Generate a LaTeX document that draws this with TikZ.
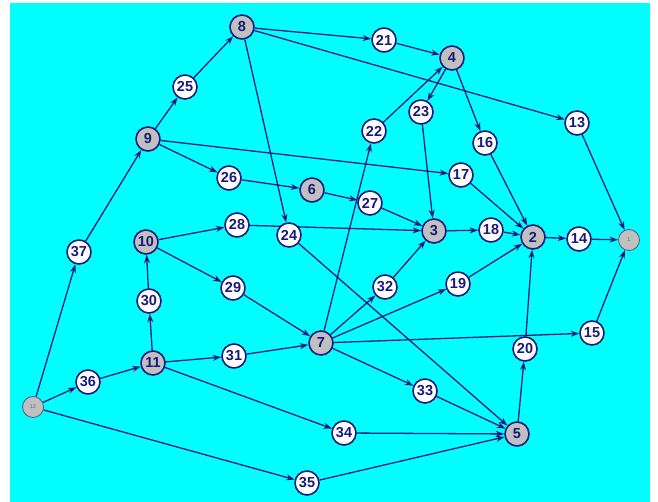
\documentclass[tikz,border=0pt]{standalone}
\usepackage{fontspec}
\setmainfont{Liberation Sans}
\usetikzlibrary{arrows.meta}
\definecolor{navy}{RGB}{25,25,125}
\definecolor{bgcyan}{RGB}{0,255,255}
\definecolor{nodegray}{RGB}{192,192,192}
\pgfdeclarelayer{bgl}
\pgfdeclarelayer{edgel}
\pgfsetlayers{bgl,edgel,main}
\begin{document}
\begin{tikzpicture}[x=1pt,y=-1pt,
  wn/.style={circle,draw=navy,line width=1.6pt,fill=white,minimum size=24pt,inner sep=0pt,
    font=\fontsize{14.5}{14.5}\selectfont\bfseries,text=navy},
  gn/.style={wn,fill=nodegray},
  sn/.style={circle,draw=gray!60!navy,line width=0.8pt,fill=nodegray,minimum size=21pt,inner sep=0pt,
    font=\fontsize{5.5}{5.5}\selectfont,text=navy!70},
  ed/.style={draw=navy,line width=1.3pt,-{Stealth[length=8.5pt,width=6pt]}}]
\begin{pgfonlayer}{bgl}
  \fill[white] (0,0) rectangle (658,502);
  \fill[bgcyan] (10,3) rectangle (650,502);
\end{pgfonlayer}
% nodes
\node[gn] (n8) at (242,27) {8};
\node[wn] (n21) at (384,40) {21};
\node[gn] (n4) at (452,58) {4};
\node[wn] (n25) at (185,87) {25};
\node[gn] (n9) at (148,139) {9};
\node[wn] (n23) at (421,112) {23};
\node[wn] (n22) at (374,131) {22};
\node[wn] (n16) at (485,143) {16};
\node[wn] (n13) at (577,123) {13};
\node[wn] (n17) at (461,175) {17};
\node[wn] (n26) at (229,178) {26};
\node[gn] (n6) at (312,190) {6};
\node[wn] (n27) at (370,203) {27};
\node[wn] (n28) at (237,225) {28};
\node[wn] (n24) at (289,235) {24};
\node[gn] (n10) at (146,242) {10};
\node[gn] (n3) at (434,231) {3};
\node[wn] (n18) at (491,230) {18};
\node[gn] (n2) at (533,237) {2};
\node[wn] (n14) at (579,239) {14};
\node[sn] (n1) at (629,240) {1};
\node[wn] (n37) at (79,252) {37};
\node[wn] (n30) at (149,301) {30};
\node[wn] (n29) at (233,288) {29};
\node[wn] (n32) at (385,287) {32};
\node[wn] (n19) at (458,284) {19};
\node[gn] (n7) at (321,343) {7};
\node[wn] (n15) at (592,333) {15};
\node[wn] (n20) at (525,349) {20};
\node[wn] (n31) at (234,356) {31};
\node[gn] (n11) at (153,363) {11};
\node[wn] (n36) at (88,382) {36};
\node[sn] (n12) at (33,407) {12};
\node[wn] (n33) at (425,391) {33};
\node[wn] (n34) at (344,433) {34};
\node[gn] (n5) at (517,434) {5};
\node[wn] (n35) at (307,483) {35};
% edges
\begin{pgfonlayer}{edgel}
\foreach \a/\b in {12/37,37/9,12/36,36/11,12/35,35/5,9/25,25/8,8/21,21/4,8/13,8/24,
  4/23,4/16,23/3,16/2,13/1,9/17,17/2,9/26,26/6,6/27,27/3,3/18,18/2,2/14,14/1,
  10/28,28/3,10/29,29/7,11/30,30/10,11/31,31/7,11/34,34/5,
  7/22,22/4,7/32,32/3,7/19,19/2,7/15,15/1,7/33,33/5,5/20,20/2,24/5}
  \draw[ed] (n\a) -- (n\b);
\end{pgfonlayer}
\end{tikzpicture}
\end{document}
